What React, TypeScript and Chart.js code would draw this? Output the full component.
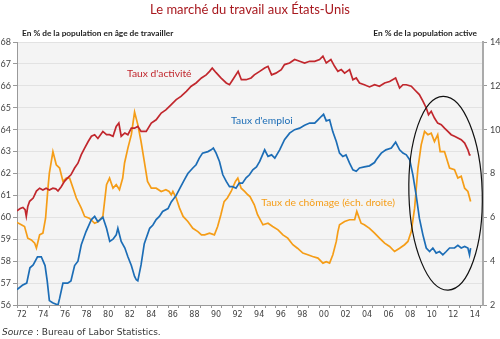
import React, { useEffect, useRef } from "react";
import { Chart, registerables } from "chart.js";

Chart.register(...registerables);

// ---- Texts ----
const TITLE = "Le marché du travail aux États-Unis";
const LEFT_UNIT = "En % de la population en âge de travailler";
const RIGHT_UNIT = "En % de la population active";
const SOURCE_LABEL = "Source";
const SOURCE_TEXT = " : Bureau of Labor Statistics.";
const LABEL_ACTIVITE = "Taux d'activité";
const LABEL_EMPLOI = "Taux d'emploi";
const LABEL_CHOMAGE = "Taux de chômage (éch. droite)";

// ---- Data: [year, value] ----
// Taux d'activité (left axis, % of working-age population)
const tauxActivite: [number, number][] = [
  [1972.0, 60.3], [1972.3, 60.4], [1972.55, 60.45], [1972.75, 60.35], [1972.86, 60.05],
  [1973.0, 60.5], [1973.17, 60.73], [1973.5, 60.88], [1973.8, 61.2], [1974.1, 61.33],
  [1974.4, 61.25], [1974.7, 61.33], [1975.0, 61.25], [1975.33, 61.33], [1975.6, 61.3],
  [1975.8, 61.2], [1976.1, 61.4], [1976.4, 61.64], [1976.7, 61.8], [1977.0, 61.94],
  [1977.34, 62.25], [1977.65, 62.47], [1977.96, 62.86], [1978.27, 63.16], [1978.6, 63.46],
  [1978.9, 63.7], [1979.2, 63.77], [1979.5, 63.6], [1979.96, 63.92], [1980.3, 63.77],
  [1980.58, 63.77], [1980.9, 63.7], [1981.2, 64.15], [1981.44, 64.3], [1981.66, 63.7],
  [1982.0, 63.85], [1982.28, 63.77], [1982.6, 64.07], [1982.9, 64.07], [1983.2, 64.15],
  [1983.5, 63.92], [1983.98, 63.92], [1984.45, 64.3], [1984.9, 64.45], [1985.37, 64.76],
  [1985.8, 64.9], [1986.3, 65.14], [1986.76, 65.37], [1987.2, 65.52], [1987.7, 65.75],
  [1988.15, 65.98], [1988.6, 66.13], [1989.1, 66.36], [1989.54, 66.5], [1989.85, 66.66],
  [1990.1, 66.81], [1990.46, 66.6], [1990.9, 66.36], [1991.4, 66.13], [1991.7, 66.05],
  [1992.0, 66.28], [1992.5, 66.66], [1992.8, 66.28], [1993.24, 66.28], [1993.7, 66.36],
  [1994.0, 66.5], [1994.5, 66.66], [1994.96, 66.81], [1995.27, 66.89], [1995.6, 66.5],
  [1996.0, 66.58], [1996.5, 66.74], [1996.8, 66.97], [1997.27, 67.04], [1997.74, 67.2],
  [1998.2, 67.12], [1998.66, 67.04], [1999.13, 67.12], [1999.6, 67.12], [2000.05, 67.2],
  [2000.36, 67.35], [2000.67, 67.04], [2001.1, 67.2], [2001.44, 66.89], [2001.75, 66.66],
  [2002.06, 66.74], [2002.37, 66.58], [2002.83, 66.74], [2003.14, 66.28], [2003.45, 66.36],
  [2003.75, 66.13], [2004.2, 66.05], [2004.68, 65.95], [2005.15, 66.05], [2005.6, 65.98],
  [2006.08, 66.13], [2006.54, 66.2], [2007.1, 66.36], [2007.47, 65.9], [2007.78, 66.05],
  [2008.09, 66.05], [2008.55, 65.98], [2008.86, 65.82], [2009.3, 65.6], [2009.63, 65.3],
  [2009.94, 64.99], [2010.15, 64.68], [2010.4, 64.84], [2010.7, 64.53], [2011.0, 64.3],
  [2011.33, 64.23], [2011.63, 64.07], [2011.94, 63.92], [2012.25, 63.77], [2012.56, 63.7],
  [2012.87, 63.62], [2013.18, 63.54], [2013.5, 63.39], [2013.8, 63.08], [2013.95, 62.85],
  [2014.05, 62.85],
];

// Taux d'emploi (left axis)
const tauxEmploi: [number, number][] = [
  [1972.0, 56.7], [1972.5, 56.9], [1972.9, 57.0], [1973.2, 57.7], [1973.5, 57.83],
  [1973.9, 58.2], [1974.25, 58.2], [1974.6, 57.8], [1974.8, 57.1], [1975.0, 56.2],
  [1975.3, 56.1], [1975.8, 56.0], [1975.95, 56.3], [1976.26, 57.0], [1976.7, 57.0],
  [1977.0, 57.1], [1977.34, 57.8], [1977.65, 58.0], [1977.96, 58.75], [1978.4, 59.35],
  [1978.9, 59.9], [1979.2, 60.04], [1979.5, 59.8], [1979.96, 60.0], [1980.3, 59.5],
  [1980.6, 58.9], [1980.9, 59.0], [1981.2, 59.2], [1981.35, 59.5], [1981.66, 58.9],
  [1982.0, 58.6], [1982.28, 58.2], [1982.6, 57.8], [1982.9, 57.3], [1983.06, 57.15],
  [1983.2, 57.1], [1983.5, 57.83], [1983.8, 58.8], [1984.3, 59.5], [1984.6, 59.65],
  [1984.9, 59.9], [1985.2, 60.04], [1985.5, 60.27], [1986.0, 60.4], [1986.3, 60.7],
  [1986.76, 61.0], [1987.07, 61.3], [1987.5, 61.7], [1987.84, 62.0], [1988.3, 62.25],
  [1988.6, 62.4], [1988.9, 62.7], [1989.2, 62.93], [1989.7, 63.0], [1990.0, 63.08],
  [1990.2, 63.16], [1990.46, 62.93], [1990.77, 62.55], [1991.08, 61.94], [1991.4, 61.64],
  [1991.7, 61.4], [1992.0, 61.4], [1992.3, 61.33], [1992.6, 61.56], [1992.9, 61.56],
  [1993.24, 61.8], [1993.55, 61.94], [1993.86, 62.17], [1994.2, 62.3], [1994.5, 62.55],
  [1994.96, 63.08], [1995.27, 62.78], [1995.6, 62.85], [1995.9, 62.7], [1996.35, 63.08],
  [1996.8, 63.54], [1997.27, 63.84], [1997.74, 64.0], [1998.2, 64.07], [1998.66, 64.2],
  [1999.13, 64.3], [1999.6, 64.3], [1999.9, 64.45], [2000.2, 64.6], [2000.42, 64.7],
  [2000.67, 64.4], [2000.98, 64.45], [2001.28, 63.9], [2001.6, 63.46], [2001.9, 62.93],
  [2002.2, 62.78], [2002.5, 62.85], [2002.83, 62.47], [2003.14, 62.17], [2003.45, 62.1],
  [2003.75, 62.25], [2004.2, 62.3], [2004.68, 62.35], [2005.14, 62.5], [2005.3, 62.63],
  [2005.77, 62.93], [2006.2, 63.08], [2006.7, 63.16], [2007.1, 63.43], [2007.47, 63.08],
  [2007.78, 62.93], [2008.09, 62.85], [2008.4, 62.63], [2008.7, 61.94], [2009.0, 61.03],
  [2009.3, 59.96], [2009.63, 59.2], [2009.94, 58.6], [2010.25, 58.44], [2010.55, 58.6],
  [2010.86, 58.37], [2011.17, 58.44], [2011.48, 58.29], [2011.79, 58.44], [2012.1, 58.6],
  [2012.56, 58.6], [2012.87, 58.72], [2013.18, 58.6], [2013.5, 58.67], [2013.8, 58.6],
  [2013.95, 58.29], [2014.05, 58.6],
];

// Taux de chômage (right axis, % of labour force)
const tauxChomage: [number, number][] = [
  [1972.0, 5.77], [1972.4, 5.66], [1972.7, 5.58], [1973.0, 5.05], [1973.33, 4.97],
  [1973.64, 4.82], [1973.8, 4.6], [1974.1, 5.2], [1974.4, 5.28], [1974.65, 5.96],
  [1974.87, 7.33], [1975.0, 8.02], [1975.33, 9.0], [1975.64, 8.4], [1975.95, 8.25],
  [1976.26, 7.64], [1976.57, 7.79], [1976.88, 7.79], [1977.2, 7.33], [1977.5, 6.88],
  [1977.96, 6.42], [1978.27, 6.04], [1978.7, 5.96], [1979.2, 5.73], [1979.5, 5.8],
  [1979.96, 6.04], [1980.3, 7.49], [1980.58, 7.79], [1980.9, 7.33], [1981.2, 7.49],
  [1981.5, 7.26], [1981.8, 7.79], [1981.97, 8.48], [1982.28, 9.16], [1982.6, 9.77],
  [1982.9, 10.8], [1983.2, 10.23], [1983.5, 9.46], [1983.8, 8.55], [1984.1, 7.64],
  [1984.45, 7.33], [1984.9, 7.33], [1985.37, 7.18], [1985.8, 7.26], [1986.1, 7.18],
  [1986.3, 7.03], [1986.45, 7.18], [1986.76, 6.88], [1987.07, 6.42], [1987.4, 6.04],
  [1987.84, 5.81], [1988.3, 5.5], [1988.77, 5.35], [1989.1, 5.2], [1989.4, 5.2],
  [1989.85, 5.28], [1990.3, 5.2], [1990.6, 5.58], [1990.9, 6.12], [1991.2, 6.72],
  [1991.5, 6.88], [1991.85, 7.18], [1992.25, 7.64], [1992.47, 7.79], [1992.78, 7.33],
  [1993.1, 7.18], [1993.4, 7.03], [1993.6, 6.95], [1994.0, 6.57], [1994.3, 6.12],
  [1994.8, 5.66], [1995.27, 5.73], [1995.7, 5.58], [1996.2, 5.43], [1996.65, 5.2],
  [1997.1, 5.05], [1997.57, 4.75], [1998.0, 4.59], [1998.5, 4.37], [1998.96, 4.29],
  [1999.4, 4.21], [1999.9, 4.14], [2000.36, 3.91], [2000.67, 3.98], [2000.98, 3.91],
  [2001.28, 4.29], [2001.6, 4.9], [2001.75, 5.35], [2001.9, 5.66], [2002.37, 5.81],
  [2002.83, 5.89], [2003.3, 5.89], [2003.5, 6.27], [2003.9, 5.73], [2004.2, 5.66],
  [2004.68, 5.5], [2005.15, 5.28], [2005.6, 5.05], [2006.08, 4.82], [2006.54, 4.67],
  [2007.0, 4.44], [2007.47, 4.59], [2007.93, 4.75], [2008.24, 4.9], [2008.55, 5.35],
  [2008.86, 6.42], [2009.17, 8.25], [2009.47, 9.31], [2009.78, 9.92], [2010.09, 9.77],
  [2010.4, 9.84], [2010.7, 9.46], [2011.0, 9.77], [2011.23, 9.0], [2011.63, 9.0],
  [2012.1, 8.25], [2012.56, 8.17], [2012.87, 7.79], [2013.18, 7.87], [2013.5, 7.33],
  [2013.8, 7.18], [2014.05, 6.72],
];

// Axis ranges / ticks
const X_MIN = 1972;
const X_MAX = 2015.2;
const X_LABEL_YEARS = [1972, 1974, 1976, 1978, 1980, 1982, 1984, 1986, 1988, 1990, 1992, 1994, 1996, 1998, 2000, 2002, 2004, 2006, 2008, 2010, 2012, 2014];
const LEFT_MIN = 56;
const LEFT_MAX = 68;
const RIGHT_MIN = 2;
const RIGHT_MAX = 14;

const RED = "#c1272d";
const BLUE = "#1c6db6";
const ORANGE = "#f59d17";

// annotation anchors (data coordinates)
const ACTIVITE_LABEL_AT: [number, number] = [1982.2, 66.57];
const EMPLOI_LABEL_AT: [number, number] = [1991.85, 64.42];
const CHOMAGE_LABEL_AT: [number, number] = [1994.65, 60.68];
const ELLIPSE_CENTER: [number, number] = [2011.73, 61.1];
const ELLIPSE_RADII: [number, number] = [3.4, 4.42];

const toXY = (arr: [number, number][]) => arr.map(([x, y]) => ({ x, y }));

const decorPlugin = {
  id: "decor",
  beforeDraw(chart: any) {
    const { ctx, chartArea } = chart;
    ctx.save();
    ctx.fillStyle = "#f4f4f4";
    ctx.fillRect(chartArea.left, chartArea.top, chartArea.right - chartArea.left, chartArea.bottom - chartArea.top);
    ctx.restore();
  },
  afterDatasetsDraw(chart: any) {
    const { ctx, scales } = chart;
    const xs = scales.x;
    const yl = scales.y;
    ctx.save();
    // ellipse
    const cx = xs.getPixelForValue(ELLIPSE_CENTER[0]);
    const cy = yl.getPixelForValue(ELLIPSE_CENTER[1]);
    const rx = Math.abs(xs.getPixelForValue(ELLIPSE_CENTER[0] + ELLIPSE_RADII[0]) - cx);
    const ry = Math.abs(yl.getPixelForValue(ELLIPSE_CENTER[1] + ELLIPSE_RADII[1]) - cy);
    ctx.beginPath();
    ctx.ellipse(cx, cy, rx, ry, -0.026, 0, Math.PI * 2);
    ctx.strokeStyle = "#111";
    ctx.lineWidth = 1.2;
    ctx.stroke();

    // series labels
    ctx.font = "10.3px Lato";
    ctx.textBaseline = "middle";
    ctx.textAlign = "left";
    const lab = (t: string, at: [number, number], c: string) => {
      ctx.fillStyle = c;
      ctx.fillText(t, xs.getPixelForValue(at[0]), yl.getPixelForValue(at[1]));
    };
    lab(LABEL_ACTIVITE, ACTIVITE_LABEL_AT, RED);
    lab(LABEL_EMPLOI, EMPLOI_LABEL_AT, BLUE);
    lab(LABEL_CHOMAGE, CHOMAGE_LABEL_AT, ORANGE);
    ctx.restore();
  },
  afterDraw(chart: any) {
    const { ctx, chartArea, width, height } = chart;
    ctx.save();
    ctx.textBaseline = "middle";
    // title
    ctx.font = "13px Lato";
    ctx.fillStyle = "#a8191f";
    ctx.textAlign = "center";
    ctx.fillText(TITLE, width / 2, 10);
    // units
    ctx.font = "bold 8.3px Lato";
    ctx.fillStyle = "#222";
    ctx.textAlign = "left";
    ctx.fillText(LEFT_UNIT, 22, 33);
    ctx.textAlign = "right";
    ctx.fillText(RIGHT_UNIT, chartArea.right - 6, 33);
    // source
    ctx.textAlign = "left";
    ctx.fillStyle = "#333";
    ctx.font = "italic 9px 'DejaVu Sans'";
    ctx.fillText(SOURCE_LABEL, 2, height - 6);
    const w = ctx.measureText(SOURCE_LABEL).width;
    ctx.font = "9px 'DejaVu Sans'";
    ctx.fillText(SOURCE_TEXT, 2 + w, height - 6);
    ctx.restore();
  },
};

export default function App() {
  const ref = useRef<HTMLCanvasElement>(null);
  useEffect(() => {
    const canvas = ref.current!;
    const chart = new Chart(canvas, {
      type: "line",
      data: {
        datasets: [
          { label: LABEL_ACTIVITE, data: toXY(tauxActivite), yAxisID: "y", borderColor: RED, borderWidth: 1.7, pointRadius: 0, tension: 0 },
          { label: LABEL_EMPLOI, data: toXY(tauxEmploi), yAxisID: "y", borderColor: BLUE, borderWidth: 1.7, pointRadius: 0, tension: 0 },
          { label: LABEL_CHOMAGE, data: toXY(tauxChomage), yAxisID: "y2", borderColor: ORANGE, borderWidth: 1.7, pointRadius: 0, tension: 0 },
        ],
      },
      options: {
        responsive: false,
        animation: false,
        events: [],
        layout: { padding: { top: 42, left: 0, right: 0, bottom: 0 } },
        plugins: { legend: { display: false }, tooltip: { enabled: false }, title: { display: false } },
        scales: {
          x: {
            type: "linear",
            min: X_MIN,
            max: X_MAX,
            afterBuildTicks: (scale: any) => {
              const t: any[] = [];
              for (let y = 1972; y <= 2015; y++) t.push({ value: y });
              X_LABEL_YEARS.forEach((y) => t.push({ value: y + 0.45 }));
              t.sort((a, b) => a.value - b.value);
              scale.ticks = t;
            },
            afterFit: (scale: any) => { scale.height = 34; },
            ticks: {
              autoSkip: false,
              maxRotation: 0,
              padding: 2,
              color: "#444",
              font: { family: "DejaVu Sans", size: 8 },
              callback: (v: any) => (Number.isInteger(v) ? "" : String(Math.floor(v) % 100).padStart(2, "0")),
            },
            grid: {
              drawOnChartArea: false,
              tickLength: 3,
              tickColor: (c: any) => (c.tick && Number.isInteger(c.tick.value) ? "#999" : "rgba(0,0,0,0)"),
            },
            border: { color: "#999", width: 1 },
          },
          y: {
            position: "left",
            min: LEFT_MIN,
            max: LEFT_MAX,
            afterFit: (scale: any) => { scale.width = 17; },
            ticks: { stepSize: 1, padding: 2, color: "#444", font: { family: "Lato", size: 9 } },
            grid: { color: "#e2e2e2", tickColor: "#999", tickLength: 4 },
            border: { color: "#999", width: 1 },
          },
          y2: {
            position: "right",
            min: RIGHT_MIN,
            max: RIGHT_MAX,
            afterFit: (scale: any) => { scale.width = 17; },
            ticks: { stepSize: 2, padding: 3, color: "#444", font: { family: "Lato", size: 9 } },
            grid: { drawOnChartArea: false, tickColor: "#999", tickLength: 4 },
            border: { color: "#aaa", width: 2 },
          },
        },
      },
      plugins: [decorPlugin],
    } as any);
    return () => chart.destroy();
  }, []);
  return (
    <div style={{ position: "absolute", left: 0, top: 0, width: 500, height: 339, background: "#fff" }}>
      <canvas ref={ref} width={500} height={339} style={{ display: "block" }} />
    </div>
  );
}
